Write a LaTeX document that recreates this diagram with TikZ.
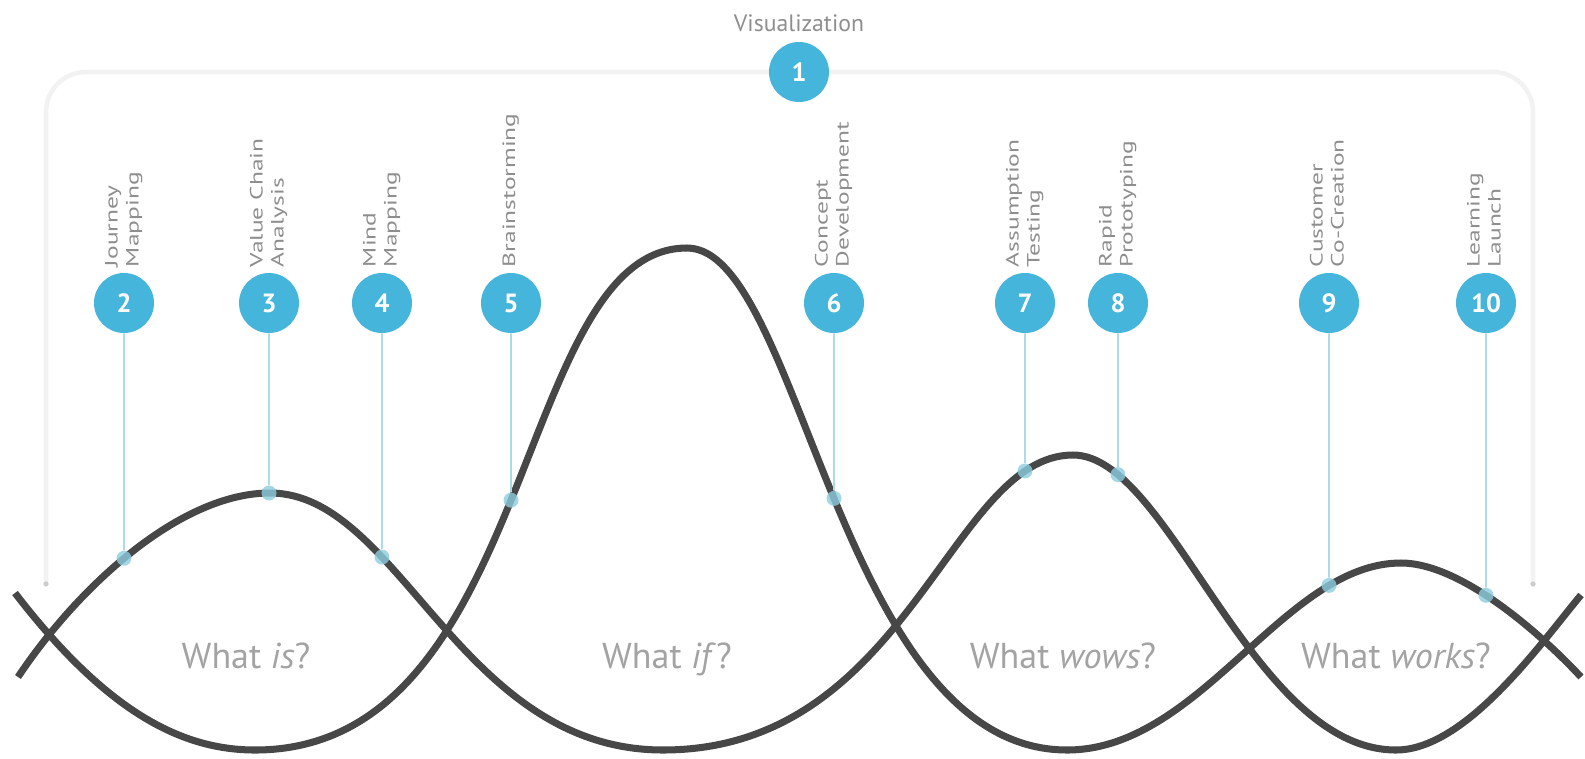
\documentclass[tikz,border=0pt]{standalone}
\usepackage{fontspec}
\setmainfont{PT Sans}
\usepackage{graphicx}
\usetikzlibrary{calc, positioning, backgrounds, intersections}

\definecolor{stepblue}{HTML}{45B5DC}
\definecolor{linkblue}{HTML}{A9DCEC}
\definecolor{dotblue}{HTML}{8CCDE0}
\definecolor{curvegrey}{HTML}{474747}
\definecolor{textgrey}{HTML}{8E8E8E}
\definecolor{askgrey}{HTML}{A3A3A3}
\definecolor{framegrey}{HTML}{F2F2F2}

\newcommand{\steptext}[1]{\scalebox{1}[0.7]{\begin{tabular}{@{}l@{}}#1\end{tabular}}}

\begin{document}
\begin{tikzpicture}
[
    x = 0.02cm, y = -0.02cm,
    every node/.style = {inner sep = 0pt},
    CurveStyle/.style = {draw = curvegrey, line width = 4pt},
    LinkStyle/.style = {draw = linkblue, line width = 1pt}
  ]
  \useasboundingbox (0,0) rectangle (1585,758);

  \tikzset{StepStyle/.style = {shape          = circle,
                                 fill           = stepblue,
                                 text           = white,
                                 minimum size   = 1.2cm,
                                 font           = \fontsize{15}{15}\selectfont\bfseries},
           LabelStyle/.style = {rotate = 90, anchor = west, text = textgrey,
                                 font = \fontsize{14.5}{17}\selectfont},
           AskStyle/.style   = {anchor = base, text = askgrey,
                                 font = \fontsize{20.5}{24}\selectfont},
           DotStyle/.style   = {circle, minimum size = 0.3cm, fill = dotblue, fill opacity = 0.8},
           FrameStyle/.style = {draw = framegrey, line width = 2.6pt, rounded corners = 0.8cm}}

  % the two waves
  \draw[CurveStyle, name path=curveA] (15,593) .. controls (105,710) and (180,750) .. (255,750)
    .. controls (536,750) and (514,248) .. (687,248)
    .. controls (801,248) and (839,750) .. (1067,750)
    .. controls (1201,750) and (1284,563) .. (1401,563)
    .. controls (1461,563) and (1541,634) .. (1581,677);
  \draw[CurveStyle, name path=curveB] (18,677) .. controls (78,587) and (180,493) .. (270,493)
    .. controls (400,493) and (459,750) .. (663,750)
    .. controls (909,750) and (950,455) .. (1073,455)
    .. controls (1170,455) and (1251,750) .. (1396,750)
    .. controls (1466,750) and (1541,643) .. (1581,595);

  \node[AskStyle](q1) at (246,668){What \textit{is}?};
  \node[AskStyle](q2) at (667,668){What \textit{if}?};
  \node[AskStyle](q3) at (1063,668){What \textit{wows}?};
  \node[AskStyle](q4) at (1396,668){What \textit{works}?};

  \node[StepStyle](s1) at (799,72){1};
  \node[StepStyle](s2) at (124,303){2};
  \node[StepStyle](s3) at (269,303){3};
  \node[StepStyle](s4) at (382,303){4};
  \node[StepStyle](s5) at (511,303){5};
  \node[StepStyle](s6) at (834,303){6};
  \node[StepStyle](s7) at (1025,303){7};
  \node[StepStyle](s8) at (1118,303){8};
  \node[StepStyle](s9) at (1329,303){9};
  \node[StepStyle](s10) at (1486,303){10};

  \node[text = textgrey, font = \fontsize{13.5}{14}\selectfont, above = 0.2cm of s1](vis){Visualization};

  \node[LabelStyle](l2) at ([yshift=3pt]s2.north){\steptext{Journey\\Mapping}};
  \node[LabelStyle](l3) at ([yshift=3pt]s3.north){\steptext{Value Chain\\Analysis}};
  \node[LabelStyle](l4) at ([yshift=3pt]s4.north){\steptext{Mind\\Mapping}};
  \node[LabelStyle](l5) at ([yshift=3pt]s5.north){\steptext{Brainstorming}};
  \node[LabelStyle](l6) at ([yshift=3pt]s6.north){\steptext{Concept\\Development}};
  \node[LabelStyle](l7) at ([yshift=3pt]s7.north){\steptext{Assumption\\Testing}};
  \node[LabelStyle](l8) at ([yshift=3pt]s8.north){\steptext{Rapid\\Prototyping}};
  \node[LabelStyle](l9) at ([yshift=3pt]s9.north){\steptext{Customer\\Co-Creation}};
  \node[LabelStyle](l10) at ([yshift=3pt]s10.north){\steptext{Learning\\Launch}};

  % drop lines onto the waves
  \foreach \n in {5, 6, 9, 10}
  {
    \path[name path=v\n] (s\n) -- ++(0,480);
    \path[name intersections={of=curveA and v\n, by=p\n}];
    \node[DotStyle](d\n) at (p\n){};
    \draw[LinkStyle] (s\n) -- (d\n);
  }
  \foreach \n in {2, 3, 4, 7, 8}
  {
    \path[name path=v\n] (s\n) -- ++(0,480);
    \path[name intersections={of=curveB and v\n, by=p\n}];
    \node[DotStyle](d\n) at (p\n){};
    \draw[LinkStyle] (s\n) -- (d\n);
  }

  \coordinate (fl) at (46,584);
  \coordinate (fr) at (1533,584);
  \begin{scope}[on background layer]
    \draw[FrameStyle] (fl) |- (s1.center) -| (fr);
    \fill[black!20] (fl) circle (1.5pt);
    \fill[black!20] (fr) circle (1.5pt);
  \end{scope}

\end{tikzpicture}
\end{document}
